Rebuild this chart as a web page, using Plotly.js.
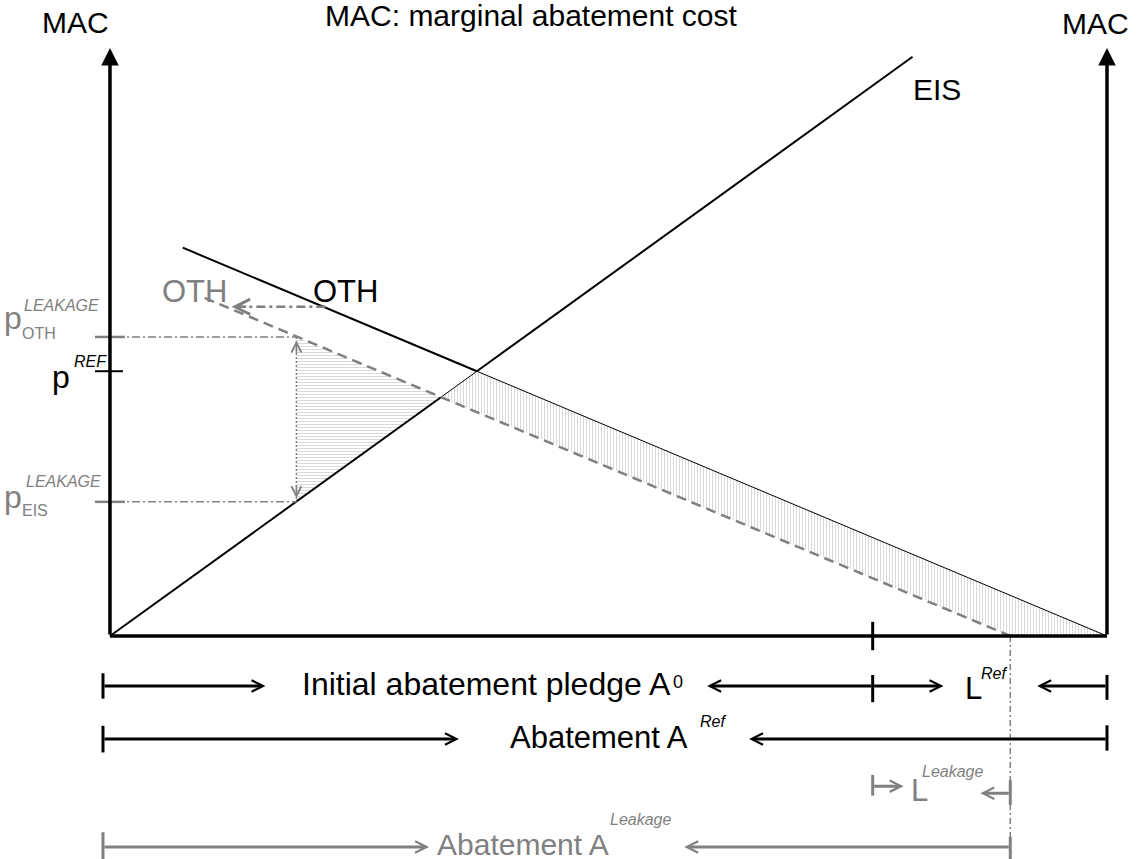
<!DOCTYPE html>
<html><head><meta charset="utf-8">
<script src="https://cdn.plot.ly/plotly-3.0.1.min.js"></script>
<style>html,body{margin:0;padding:0;background:#fff;}#chart{width:1137px;height:859px;}</style>
</head><body><div id="chart"></div>
<script>
// ---- Data (x = abatement, y = MAC) ----
const eisX = [0, 33.2, 36.8, 80.5];       // EIS MAC curve (incl. crossings)
const eisY = [0, 40.4, 44.8, 98];
const othX = [7.3, 36.8, 100];             // OTH MAC curve
const othY = [65.7, 44.8, 0];
const othLeakX = [9.5, 90.3];              // OTH curve after leakage (dashed)
const othLeakY = [57.2, 0];
const priceLabels = ['p_OTH^LEAKAGE', 'p^REF', 'p_EIS^LEAKAGE'];
const priceValues = [50.6, 44.8, 22.7];    // pOthLeak, pRef, pEisLeak
const xPriceGap = 18.7;                    // abatement where leakage prices are read
const quantityLabels = ['A0', 'ARef', 'ALeakage'];
const quantityValues = [76.5, 100, 90.3];  // pledge A0, abatement ARef, abatement ALeakage
const macTop = 99.5;

const pOthLeak = priceValues[0], pRef = priceValues[1], pEisLeak = priceValues[2];
const A0 = quantityValues[0], ARef = quantityValues[1], ALeak = quantityValues[2];

const FONT = 'Liberation Sans, Arial, sans-serif';
const BLACK = '#000000', GREY = '#808080';

function ln(x, y, color, width, dash) {
  return {type: 'scatter', mode: 'lines', x: x, y: y, hoverinfo: 'skip',
          line: {color: color, width: width, dash: dash || 'solid'}};
}

const traces = [
  {type: 'scatter', mode: 'lines', hoverinfo: 'skip', fill: 'toself',
   x: [xPriceGap, eisX[1], xPriceGap], y: [pOthLeak, eisY[1], pEisLeak],
   line: {width: 0, color: 'rgba(0,0,0,0)'}, fillcolor: 'white',
   fillpattern: {shape: '-', fgcolor: '#cccccc', bgcolor: 'white', size: 3, solidity: 0.25}},
  {type: 'scatter', mode: 'lines', hoverinfo: 'skip', fill: 'toself',
   x: [eisX[1], eisX[2], othX[2], othLeakX[1]], y: [eisY[1], eisY[2], othY[2], othLeakY[1]],
   line: {width: 0, color: 'rgba(0,0,0,0)'}, fillcolor: 'white',
   fillpattern: {shape: '|', fgcolor: '#cccccc', bgcolor: 'white', size: 3, solidity: 0.25}},
  ln(eisX.slice(0, 2), eisY.slice(0, 2), BLACK, 2),
  ln(eisX.slice(1, 3), eisY.slice(1, 3), BLACK, 1),
  ln(eisX.slice(2, 4), eisY.slice(2, 4), BLACK, 2),
  ln(othX.slice(0, 2), othY.slice(0, 2), BLACK, 2),
  ln(othX.slice(1, 3), othY.slice(1, 3), BLACK, 1),
  ln(othLeakX, othLeakY, GREY, 2.5, '10px,6px'),
  ln([-1, xPriceGap], [pOthLeak, pOthLeak], GREY, 1.5, '8px,3px,2px,3px'),
  ln([-1, xPriceGap], [pEisLeak, pEisLeak], GREY, 1.5, '8px,3px,2px,3px'),
  ln([xPriceGap, xPriceGap], [pOthLeak, pEisLeak], GREY, 1.5, '2px,2px'),
  ln([21.6, 12.8], [55.7, 55.7], GREY, 2.5, '9px,4px,3px,4px'),
  ln([ALeak, ALeak], [0, -37.8], GREY, 1.5, '6px,3px,2px,3px')
];

function seg(x0, y0, x1, y1, color, width) {
  return {type: 'line', xref: 'x', yref: 'y', x0: x0, y0: y0, x1: x1, y1: y1,
          line: {color: color, width: width}};
}
const shapes = [
  seg(0, 0, ARef, 0, BLACK, 3.5),
  seg(A0, 2.4, A0, -2.4, BLACK, 3),
  seg(-1.5, pOthLeak, 1.5, pOthLeak, GREY, 2.5),
  seg(-1.5, pEisLeak, 1.5, pEisLeak, GREY, 2.5),
  seg(-1.5, pRef, 1.3, pRef, BLACK, 2),
  // row 1
  seg(-0.7, -6.3, -0.7, -10.6, BLACK, 3),
  seg(A0, -6.6, A0, -11.2, BLACK, 3),
  seg(ARef, -6.6, ARef, -10.8, BLACK, 3),
  // row 2
  seg(-0.7, -15.2, -0.7, -19.7, BLACK, 3),
  seg(ARef, -15.1, ARef, -19.4, BLACK, 3),
  // row 3
  seg(A0, -23.5, A0, -27.0, GREY, 3),
  seg(ALeak, -24.4, ALeak, -28.6, GREY, 3),
  // row 4
  seg(-0.7, -33.2, -0.7, -37.8, GREY, 3),
  seg(ALeak, -34.0, ALeak, -37.8, GREY, 3)
];

function txt(x, y, text, size, color, xanchor) {
  return {x: x, y: y, xref: 'x', yref: 'y', text: text, showarrow: false,
          xanchor: xanchor || 'left', yanchor: 'middle',
          font: {family: FONT, size: size, color: color}};
}
function arr(tx, ty, hx, hy, color, width, head, size) {
  return {x: hx, y: hy, ax: tx, ay: ty, xref: 'x', yref: 'y', axref: 'x', ayref: 'y',
          text: '', showarrow: true, arrowhead: head, arrowsize: size,
          arrowwidth: width, arrowcolor: color, standoff: 0};
}

const annotations = [
  // axes arrows
  arr(0, 0, 0, macTop, BLACK, 3.5, 2, 1),
  arr(ARef, 0, ARef, macTop, BLACK, 3.5, 2, 1),
  txt(-3.5, 103.8, 'MAC', 30, BLACK, 'center'),
  txt(98.85, 103.7, 'MAC', 30, BLACK, 'center'),
  txt(80.3, 92.4, 'EIS', 30, BLACK),
  txt(20.2, 58.3, 'OTH', 31, BLACK),
  txt(5.0, 58.3, 'OTH', 31, GREY),
  arr(13.8, 55.7, 12.2, 55.7, GREY, 2.5, 5, 1.2),
  // price labels
  txt(-10.8, 53.8, 'p', 32, GREY),
  txt(-9.0, 51.1, 'OTH', 16, GREY),
  txt(-8.8, 56.0, '<i>LEAKAGE</i>', 16, GREY),
  txt(-6.0, 43.9, 'p', 32, BLACK),
  txt(-3.8, 46.4, '<i>REF</i>', 16, BLACK),
  txt(-10.8, 23.6, 'p', 32, GREY),
  txt(-9.0, 21.3, 'EIS', 16, GREY),
  txt(-8.6, 26.1, '<i>LEAKAGE</i>', 16, GREY),
  // dotted vertical arrowheads
  arr(xPriceGap, pOthLeak - 3.0, xPriceGap, pOthLeak - 0.6, GREY, 1.5, 5, 1.3),
  arr(xPriceGap, pEisLeak + 3.0, xPriceGap, pEisLeak + 0.6, GREY, 1.5, 5, 1.3),
  // row 1
  arr(-0.7, -8.46, 15.6, -8.46, BLACK, 3, 5, 0.75),
  txt(19.1, -8.2, 'Initial abatement pledge A', 32, BLACK),
  txt(56.3, -7.7, '0', 18, BLACK),
  arr(A0, -8.46, 59.9, -8.46, BLACK, 3, 5, 0.75),
  arr(A0, -8.46, 83.6, -8.46, BLACK, 3, 5, 0.75),
  txt(85.6, -8.8, 'L', 31, BLACK),
  txt(87.2, -6.4, '<i>Ref</i>', 16, BLACK),
  arr(ARef, -8.46, 93.0, -8.46, BLACK, 3, 5, 0.75),
  // row 2
  arr(-0.7, -17.43, 35.0, -17.43, BLACK, 3, 5, 0.75),
  txt(39.9, -17.1, 'Abatement A', 31, BLACK),
  txt(59.0, -14.4, '<i>Ref</i>', 16, BLACK),
  arr(ARef, -17.43, 64.1, -17.43, BLACK, 3, 5, 0.75),
  // row 3
  arr(A0, -25.4, 79.6, -25.4, GREY, 3, 5, 0.75),
  txt(80.1, -26.2, 'L', 31, GREY),
  txt(81.2, -23.0, '<i>Leakage</i>', 16, GREY),
  arr(ALeak, -26.6, 87.3, -26.6, GREY, 3, 5, 0.75),
  // row 4
  arr(-0.7, -35.7, 32.0, -35.7, GREY, 3, 5, 0.75),
  txt(32.6, -35.2, 'Abatement A', 30, GREY),
  txt(50.0, -31.1, '<i>Leakage</i>', 16, GREY),
  arr(ALeak, -35.7, 57.6, -35.7, GREY, 3, 5, 0.75)
];

const layout = {
  width: 1137, height: 859,
  margin: {l: 0, r: 0, t: 0, b: 0, pad: 0},
  paper_bgcolor: 'white', plot_bgcolor: 'white',
  showlegend: false,
  title: {text: 'MAC: marginal abatement cost', font: {family: FONT, size: 30, color: BLACK},
          x: 0.467, xanchor: 'center', xref: 'container', y: 0.982, yanchor: 'middle', yref: 'container'},
  xaxis: {range: [-11.03, 103.01], visible: false, fixedrange: true},
  yaxis: {range: [-37.73, 107.61], visible: false, fixedrange: true},
  shapes: shapes,
  annotations: annotations
};

Plotly.newPlot('chart', traces, layout, {staticPlot: true, displayModeBar: false});
</script></body></html>
